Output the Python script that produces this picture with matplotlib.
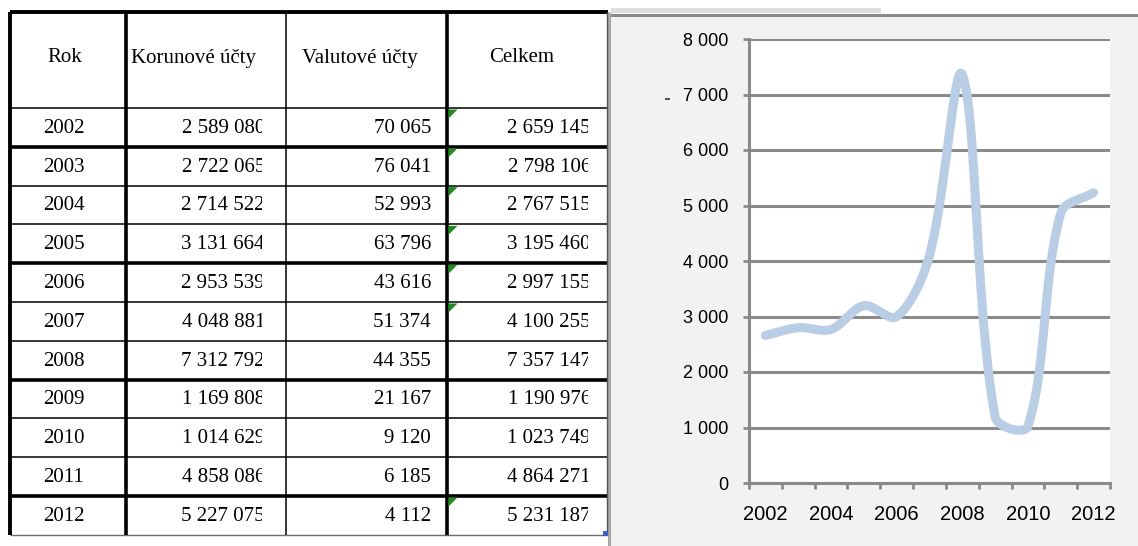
import numpy as np
import matplotlib.pyplot as plt
from matplotlib.patches import Rectangle, Polygon

# Table data (Kč) as shown in the sheet.
years = [2002, 2003, 2004, 2005, 2006, 2007, 2008, 2009, 2010, 2011, 2012]
korunove = [2589080, 2722065, 2714522, 3131664, 2953539, 4048881, 7312792, 1169808, 1014629, 4858086, 5227075]
valutove = [70065, 76041, 52993, 63796, 43616, 51374, 44355, 21167, 9120, 6185, 4112]
celkem = [2659145, 2798106, 2767515, 3195460, 2997155, 4100255, 7357147, 1190976, 1023749, 4864271, 5231187]
headers = ["Rok", "Korunové účty", "Valutové účty", "Celkem"]

# Rows with the green error marker and rows followed by a thick border.
marked_years = [2002, 2003, 2004, 2005, 2006, 2007, 2012]
thick_after_years = [2002, 2005, 2008, 2011]

# Chart axis values.
y_ticks = [0, 1000, 2000, 3000, 4000, 5000, 6000, 7000, 8000]
x_labels = ["2002", "2004", "2006", "2008", "2010", "2012"]

W, H = 1138, 546
table_font = "Liberation Serif"
chart_font = "Liberation Sans"


def fmt(v):
    return f"{v:,}".replace(",", " ")


# Excel-like smoothed line: bezier segments with chord-weighted tangents.
def excel_smooth(px, py, f=1/6, n=40):
    pts = np.column_stack([px, py])
    m = len(pts)
    out = [pts[0]]
    for i in range(m - 1):
        p0 = pts[i - 1] if i > 0 else pts[i]
        p1 = pts[i]
        p2 = pts[i + 1]
        p3 = pts[i + 2] if i + 2 < m else pts[i + 1]
        d01 = np.hypot(*(p1 - p0))
        d12 = np.hypot(*(p2 - p1))
        d23 = np.hypot(*(p3 - p2))
        c1 = p1 + (p2 - p0) * 2 * f * d12 / (d01 + d12)
        c2 = p2 - (p3 - p1) * 2 * f * d12 / (d12 + d23)
        t = np.linspace(0, 1, n)[1:, None]
        seg = ((1 - t) ** 3) * p1 + 3 * ((1 - t) ** 2) * t * c1 + 3 * (1 - t) * t ** 2 * c2 + t ** 3 * p2
        out.extend(seg)
    return np.array(out)


fig = plt.figure(figsize=(W / 100, H / 100), dpi=100)
fig.patch.set_facecolor("white")

# Background axes in pixel units for the table and the chart panel.
tab = fig.add_axes([0, 0, 1, 1])
tab.set_xlim(0, W)
tab.set_ylim(H, 0)
tab.axis("off")

# Chart panel background and borders.
tab.add_patch(Rectangle((611, 17), W - 611, H - 17, facecolor="#f2f2f2", edgecolor="none", zorder=0))
tab.add_patch(Rectangle((611, 8), 270, 5, facecolor="#dedede", edgecolor="none", zorder=0))
tab.hlines(15, 608, W, color="#8a8a8a", lw=2.2, zorder=1)
tab.vlines(609.5, 12, H, color="#a8a8a8", lw=2.2, zorder=1)

# Table grid.
col_x = [10, 126, 286, 447, 607]
top, header_bottom, row_h = 12, 108, 38.8
row_y = [header_bottom + row_h * i for i in range(len(years) + 1)]
bottom = row_y[-1]

tab.hlines(top, col_x[0], 608, color="black", lw=2.8, zorder=3)
tab.hlines(header_bottom, col_x[0], col_x[-1], color="black", lw=1.1, zorder=3)
for i, yr in enumerate(years):
    y = row_y[i + 1]
    if yr in thick_after_years:
        tab.hlines(y, col_x[0], col_x[-1], color="black", lw=2.6, zorder=3)
    elif yr == years[-1]:
        tab.hlines(y, col_x[0], col_x[-1], color="#6e6e6e", lw=1.0, zorder=3)
    else:
        tab.hlines(y, col_x[0], col_x[-1], color="black", lw=1.1, zorder=3)

for x, lw, c in zip(col_x, [2.8, 2.6, 1.1, 2.6, 1.0], ["black", "black", "black", "black", "#555555"]):
    tab.vlines(x, top, bottom, color=c, lw=lw, zorder=3)

# Header texts.
header_x = [65, 194, 360, 522]
for hx, htxt in zip(header_x, headers):
    tab.text(hx, 58, htxt, ha="center", va="center", fontsize=15, family=table_font, color="black")

# Row texts; long numbers get cut by the cell like in the sheet.
for i, yr in enumerate(years):
    yc = row_y[i] + row_h / 2 + 1
    tab.text(64, yc, str(yr), ha="center", va="center", fontsize=15, family=table_font)

    t1 = tab.text(265, yc, fmt(korunove[i]), ha="right", va="center", fontsize=15,
                  family=table_font, clip_on=True)
    t1.set_clip_path(Rectangle((col_x[1], row_y[i]), 262 - col_x[1], row_h, transform=tab.transData))

    tab.text(431, yc, fmt(valutove[i]), ha="right", va="center", fontsize=15, family=table_font)

    t3 = tab.text(591, yc, fmt(celkem[i]), ha="right", va="center", fontsize=15,
                  family=table_font, clip_on=True)
    t3.set_clip_path(Rectangle((col_x[3], row_y[i]), 588 - col_x[3], row_h, transform=tab.transData))

    if yr in marked_years:
        x0, y0 = col_x[3] + 1.5, row_y[i] + 1.5
        tab.add_patch(Polygon([[x0, y0], [x0 + 9, y0], [x0, y0 + 9]], closed=True,
                              facecolor="#1e8c1e", edgecolor="none", zorder=4))

# Little fill handle and the stray dash next to the axis.
tab.add_patch(Rectangle((603, bottom - 4), 5, 5, facecolor="#3a5ccc", edgecolor="none", zorder=4))
tab.hlines(99, 665, 670, color="#333333", lw=1.2, zorder=2)

# Chart axes placed over the panel.
x0, x1, y_top, y_bot = 749, 1110, 39, 483
ax = fig.add_axes([x0 / W, (H - y_bot) / H, (x1 - x0) / W, (y_bot - y_top) / H])
ax.set_facecolor("white")
ax.set_xlim(-0.5, len(years) - 0.5)
ax.set_ylim(0, 8000)

grid_color = "#8a8a8a"
ax.set_yticks(y_ticks)
ax.set_yticklabels([fmt(v) for v in y_ticks])
ax.yaxis.grid(True, color=grid_color, lw=2.2)
ax.set_axisbelow(True)

ax.set_xticks(np.arange(-0.5, len(years), 1))
ax.set_xticklabels([""] * len(np.arange(-0.5, len(years), 1)))
ax.set_xticks(np.arange(0, len(years), 2), minor=True)
ax.set_xticklabels(x_labels, minor=True)

for side in ["top", "right"]:
    ax.spines[side].set_visible(False)
for side in ["left", "bottom"]:
    ax.spines[side].set_color(grid_color)
    ax.spines[side].set_linewidth(2.2)

ax.tick_params(axis="y", length=4, width=2, color=grid_color, pad=11, labelsize=13, labelcolor="black")
ax.tick_params(axis="x", which="major", length=4, width=2, color=grid_color)
ax.tick_params(axis="x", which="minor", length=0, pad=16, labelsize=14.5, labelcolor="black")
for lab in ax.get_yticklabels() + ax.get_xticklabels(minor=True):
    lab.set_family(chart_font)

# Smoothed line computed in pixel space so the tangents behave like Excel's.
sx = (x1 - x0) / len(years)
sy = (y_bot - y_top) / 8000
vals = np.array(celkem) / 1000
px = np.arange(len(years)) * sx
py = vals * sy
curve = excel_smooth(px, py)
ax.plot(curve[:, 0] / sx, curve[:, 1] / sy, color="#b9cde5", lw=6.5, solid_capstyle="round",
        solid_joinstyle="round", zorder=3)

fig.savefig("out.png", dpi=100)
